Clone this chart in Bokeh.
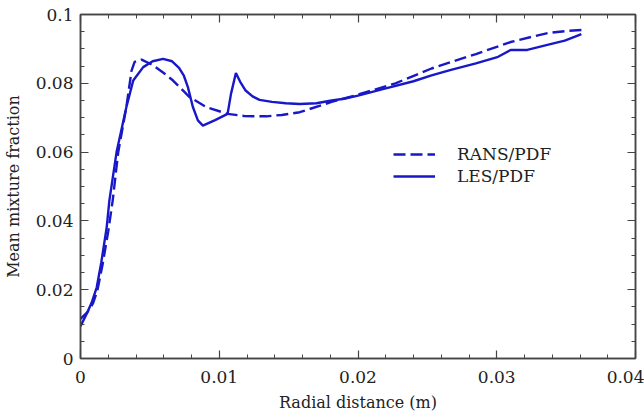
from bokeh.plotting import figure
from bokeh.models import (LinearAxis, FixedTicker, PrintfTickFormatter, Range1d,
                          Legend, LegendItem)
from bokeh.embed import file_html
from bokeh.resources import INLINE

# ---- data ----
les_x = [0.0, 0.00045, 0.0008, 0.00117, 0.0015, 0.00189, 0.00208, 0.0026, 0.0033, 0.0038,
         0.00452, 0.0052, 0.00595, 0.0066, 0.0071, 0.00745, 0.00774, 0.0081, 0.00846, 0.00882,
         0.0097, 0.0106, 0.01085, 0.0112, 0.0115, 0.0119, 0.0124, 0.0129, 0.0138, 0.0148,
         0.0158, 0.017, 0.0181, 0.019, 0.02, 0.022, 0.024, 0.0253, 0.0267, 0.0285, 0.0301,
         0.031, 0.0322, 0.0335, 0.0349, 0.0356, 0.0361]
les_y = [0.0094, 0.0130, 0.0162, 0.0207, 0.0280, 0.0382, 0.0459, 0.0600, 0.0730, 0.0808,
         0.0847, 0.0864, 0.0871, 0.0864, 0.0845, 0.0822, 0.0789, 0.0731, 0.0692, 0.0677,
         0.0693, 0.0711, 0.0770, 0.0830, 0.0805, 0.0779, 0.0762, 0.0752, 0.0746, 0.0742,
         0.0740, 0.0742, 0.0750, 0.0755, 0.0764, 0.0785, 0.0806, 0.0823, 0.0839, 0.0858,
         0.0877, 0.0897, 0.0897, 0.0910, 0.0924, 0.0935, 0.0943]

rans_x = [0.0, 0.0005, 0.0009, 0.0012, 0.0016, 0.002, 0.00232, 0.00272, 0.0033, 0.00368,
          0.0039, 0.0044, 0.0052, 0.006, 0.00667, 0.00786, 0.00906, 0.0106, 0.0118, 0.0126,
          0.0134, 0.0145, 0.0158, 0.0181, 0.02, 0.0227, 0.0253, 0.0267, 0.0285, 0.031,
          0.0325, 0.0337, 0.035, 0.0361]
rans_y = [0.0115, 0.0135, 0.0160, 0.0195, 0.0275, 0.0370, 0.0459, 0.0600, 0.0730, 0.0837,
          0.0862, 0.0869, 0.0853, 0.0830, 0.0808, 0.0760, 0.0731, 0.0711, 0.0705, 0.0704,
          0.0704, 0.0708, 0.0716, 0.0746, 0.0767, 0.0800, 0.0843, 0.0862, 0.0885, 0.0920,
          0.0935, 0.0946, 0.0952, 0.0955]

x_ticks = [0.0, 0.01, 0.02, 0.03, 0.04]
y_ticks = [0.0, 0.02, 0.04, 0.06, 0.08, 0.1]
x_minor = [i * 0.002 for i in range(21)]
y_minor = [i * 0.005 for i in range(21)]

series_names = ["RANS/PDF", "LES/PDF"]

FONT = "DejaVu Serif"
BLUE = "#1818c8"
AX = "#444444"
TXT = "#222222"

p = figure(width=644, height=418, output_backend="svg", toolbar_location=None,
           x_range=Range1d(0, 0.04), y_range=Range1d(0, 0.1),
           min_border_left=77, min_border_right=9, min_border_top=14, min_border_bottom=60,
           x_axis_location=None, y_axis_location=None)
p.grid.visible = False
p.outline_line_color = AX
p.outline_line_width = 1.5
p.background_fill_color = "white"
p.border_fill_color = "white"


def make_axis(ticks, minor, show_labels):
    ax = LinearAxis(ticker=FixedTicker(ticks=ticks, minor_ticks=minor),
                    formatter=PrintfTickFormatter(format="%g"))
    ax.major_tick_in = 8
    ax.major_tick_out = 0
    ax.minor_tick_in = 4
    ax.minor_tick_out = 0
    ax.axis_line_color = AX
    ax.axis_line_width = 1.5
    ax.major_tick_line_color = AX
    ax.minor_tick_line_color = AX
    ax.major_tick_line_width = 1.2
    ax.minor_tick_line_width = 1.0
    if show_labels:
        ax.major_label_text_font = FONT
        ax.major_label_text_font_size = "17px"
        ax.major_label_text_color = TXT
        ax.axis_label_text_font = FONT
        ax.axis_label_text_font_size = "16px"
        ax.axis_label_text_font_style = "normal"
        ax.axis_label_text_color = TXT
    else:
        ax.major_label_text_color = None
        ax.major_label_standoff = 0
    return ax


xb = make_axis(x_ticks, x_minor, True)
xb.axis_label = "Radial distance (m)"
xb.major_label_standoff = 12
xb.axis_label_standoff = 7
p.add_layout(xb, "below")

yl = make_axis(y_ticks, y_minor, True)
yl.axis_label = "Mean mixture fraction"
yl.major_label_standoff = 7
yl.axis_label_standoff = 10
p.add_layout(yl, "left")

xt = make_axis(x_ticks, x_minor, False)
p.add_layout(xt, "above")
yr = make_axis(y_ticks, y_minor, False)
p.add_layout(yr, "right")

r_rans = p.line(rans_x, rans_y, line_color=BLUE, line_width=2.4, line_dash="12 5")
r_les = p.line(les_x, les_y, line_color=BLUE, line_width=2.4)

legend = Legend(items=[LegendItem(label=series_names[0], renderers=[r_rans]),
                       LegendItem(label=series_names[1], renderers=[r_les])],
                location=(313, 172))
legend.glyph_width = 42
legend.glyph_height = 20
legend.label_standoff = 22
legend.spacing = 2
legend.padding = 0
legend.margin = 0
legend.border_line_color = None
legend.background_fill_alpha = 0
legend.label_text_font = FONT
legend.label_text_font_size = "17px"
legend.label_text_color = TXT
p.add_layout(legend, "center")

open("out.html", "w").write(file_html(p, INLINE))
